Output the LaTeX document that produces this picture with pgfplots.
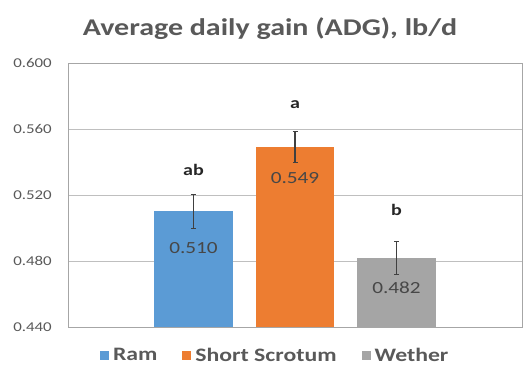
\documentclass[border=0pt]{standalone}
\usepackage{fontspec}
\setmainfont{Carlito}[FakeStretch=1.25]
\usepackage{pgfplots}
\pgfplotsset{compat=1.18}
\definecolor{cRam}{HTML}{5B9BD5}
\definecolor{cSS}{HTML}{ED7D31}
\definecolor{cW}{HTML}{A5A5A5}
\definecolor{txt}{HTML}{595959}
\definecolor{grid}{HTML}{D9D9D9}
\definecolor{frame}{HTML}{A6A6A6}
\definecolor{err}{HTML}{404040}
\begin{document}
\begin{tikzpicture}
\path[use as bounding box] (0,0) rectangle (523bp,369bp);
\node[anchor=base, text=txt, font=\fontsize{24bp}{27bp}\selectfont\bfseries, inner sep=0pt] at (270bp,333bp) {Average daily gain (ADG), lb/d};
\begin{axis}[
  at={(68bp,42bp)}, anchor=south west,
  scale only axis, width=454bp, height=264bp,
  xmin=-1.236, xmax=3.236,
  ymin=0.44, ymax=0.6,
  ytick={0.44,0.48,0.52,0.56,0.6},
  xtick=\empty,
  ymajorgrids, major grid style={grid, line width=0.8bp},
  axis line style={frame, line width=0.8bp},
  major tick length=0pt,
  /pgf/number format/.cd, fixed, fixed zerofill, precision=3, assume math mode=true,
  /pgfplots/.cd,
  yticklabel style={text=txt, font=\fontsize{13.5bp}{15bp}\selectfont, inner sep=0pt, xshift=-16bp},
  ybar, bar width=0.77,
  legend style={at={(0.0705,-0.108)}, anchor=west, draw=none, fill=none, legend columns=3,
    inner sep=0pt, outer sep=0pt,
    font=\fontsize{19bp}{21bp}\selectfont\bfseries, text=txt,
    nodes={inner xsep=4bp, inner ysep=0pt},
    /tikz/every even column/.append style={column sep=21bp}},
  legend image code/.code={\fill[#1] (0bp,-4.5bp) rectangle (9bp,4.5bp);},
  error bars/y dir=both, error bars/y explicit,
  error bars/error bar style={err, line width=1.5bp},
  error bars/error mark options={rotate=90, mark size=2.5bp, err, line width=0.9bp},
]
\addplot[fill=cRam, draw=none, bar shift=0pt] coordinates {(0,0.510) +- (0,0.0105)};
\addlegendentry{Ram}
\addplot[fill=cSS, draw=none, bar shift=0pt] coordinates {(1,0.549) +- (0,0.0095)};
\addlegendentry{Short Scrotum}
\addplot[fill=cW, draw=none, bar shift=0pt] coordinates {(2,0.482) +- (0,0.010)};
\addlegendentry{Wether}
\node[font=\fontsize{16bp}{18bp}\selectfont\bfseries, text=black!85] at (axis cs:0,0.5352) {ab};
\node[font=\fontsize{16bp}{18bp}\selectfont\bfseries, text=black!85] at (axis cs:1,0.5745) {a};
\node[font=\fontsize{16bp}{18bp}\selectfont\bfseries, text=black!85] at (axis cs:2,0.5109) {b};
\node[font=\fontsize{17bp}{19bp}\selectfont, text=txt!80!black] at (axis cs:0,0.4879) {0.510};
\node[font=\fontsize{17bp}{19bp}\selectfont, text=txt!80!black] at (axis cs:1,0.5303) {0.549};
\node[font=\fontsize{17bp}{19bp}\selectfont, text=txt!80!black] at (axis cs:2,0.4636) {0.482};
\end{axis}
\end{tikzpicture}
\end{document}
